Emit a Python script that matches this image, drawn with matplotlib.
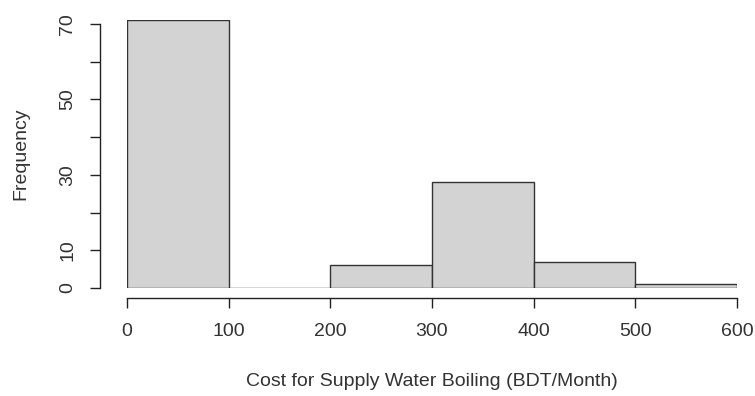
import matplotlib.pyplot as plt
import numpy as np

plt.rcParams['font.family'] = ['Liberation Sans', 'DejaVu Sans']

# histogram bins and counts
bin_edges = [0, 100, 200, 300, 400, 500, 600]
counts = [71, 0, 6, 28, 7, 1]
x_ticks = [0, 100, 200, 300, 400, 500, 600]
y_ticks = [0, 10, 20, 30, 40, 50, 60, 70]
y_tick_labels = ['0', '10', '', '30', '', '50', '', '70']

W, H = 755, 396
fig = plt.figure(figsize=(W / 100, H / 100), dpi=100)
left, right = 127 / W, 737 / W
bottom = (H - 288) / H
top = (H - 20.3) / H
ax = fig.add_axes([left, bottom, right - left, top - bottom])

widths = np.diff(bin_edges)
ax.bar(bin_edges[:-1], counts, width=widths, align='edge',
       color='#d3d3d3', edgecolor='#333333', linewidth=1.0)

ax.set_xlim(0, 600)
ax.set_ylim(0, 71)

for s in ['top', 'right']:
    ax.spines[s].set_visible(False)
ax.spines['left'].set_position(('outward', 19.4))
ax.spines['bottom'].set_position(('outward', 7.2))
ax.spines['left'].set_bounds(0, 70)
ax.spines['bottom'].set_bounds(0, 600)
for s in ['left', 'bottom']:
    ax.spines[s].set_color('#222222')
    ax.spines[s].set_linewidth(1.0)

ax.set_xticks(x_ticks)
ax.set_xticklabels([str(v) for v in x_ticks])
ax.set_yticks(y_ticks)
ax.set_yticklabels(y_tick_labels, rotation=90, va='center')
ax.tick_params(axis='both', length=7, width=1.0, color='#222222',
               labelsize=14, labelcolor='#333333')
ax.tick_params(axis='x', pad=11)
ax.tick_params(axis='y', pad=10)

ax.set_xlabel('Cost for Supply Water Boiling (BDT/Month)', fontsize=14,
              color='#333333', labelpad=24)
ax.set_ylabel('Frequency', fontsize=14, color='#333333', labelpad=22)

fig.savefig('out.png', dpi=100)
